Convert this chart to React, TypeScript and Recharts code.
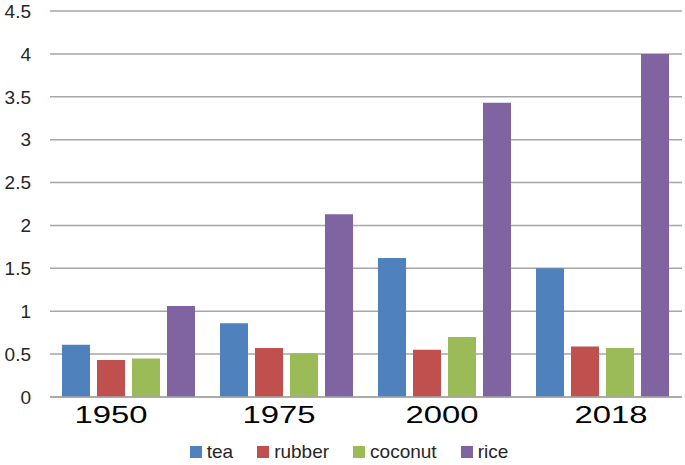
import React from 'react';
import { BarChart, Bar, XAxis, YAxis, CartesianGrid, Legend } from 'recharts';

const years = ['1950', '1975', '2000', '2018'];
const tea = [0.61, 0.86, 1.62, 1.5];
const rubber = [0.43, 0.57, 0.55, 0.59];
const coconut = [0.45, 0.51, 0.7, 0.57];
const rice = [1.06, 2.13, 3.43, 4.0];
const yTicks = [0, 0.5, 1, 1.5, 2, 2.5, 3, 3.5, 4, 4.5];

const C = {
  tea: '#4f81bd',
  rubber: '#c0504d',
  coconut: '#9bbb59',
  rice: '#8064a2',
  grid: '#a6a6a6',
  text: '#262626',
};

const series = [
  { key: 'tea', color: C.tea },
  { key: 'rubber', color: C.rubber },
  { key: 'coconut', color: C.coconut },
  { key: 'rice', color: C.rice },
];

const data = years.map((y, i) => ({
  year: y,
  tea: tea[i],
  rubber: rubber[i],
  coconut: coconut[i],
  rice: rice[i],
}));

const font = '"Liberation Sans", Arial, sans-serif';

// the year labels in the source sit a little off the group centres
const nudge: Record<string, number> = { '1950': -18, '1975': -8, '2000': -3, '2018': 8 };

function YearTick(props: any) {
  const { x, y, payload } = props;
  return (
    <text
      x={x + (nudge[payload.value] ?? 0)}
      y={y}
      dy={18}
      textAnchor="middle"
      fontFamily={font}
      fontSize={24}
      fill="#000"
      textLength={73}
      lengthAdjust="spacingAndGlyphs"
    >
      {payload.value}
    </text>
  );
}

function LegendBox() {
  return (
    <div style={{ display: 'flex', justifyContent: 'center', gap: 24, fontFamily: font, fontSize: 19, lineHeight: '22px', color: C.text, paddingLeft: 16 }}>
      {series.map((s) => (
        <span key={s.key} style={{ display: 'flex', alignItems: 'center' }}>
          <span style={{ width: 12, height: 12, background: s.color, marginRight: 5, display: 'inline-block' }} />
          {s.key}
        </span>
      ))}
    </div>
  );
}

export default function App() {
  return (
    <div style={{ width: 685, height: 465, background: '#fff' }}>
      <style>{'body{margin:0}'}</style>
      <BarChart
        width={685}
        height={465}
        data={data}
        margin={{ top: 11, right: 3, left: 0, bottom: 0 }}
        barGap={7}
        barCategoryGap={12}
      >
        <CartesianGrid stroke={C.grid} strokeWidth={1.5} vertical={false} />
        <XAxis
          dataKey="year"
          height={34}
          tick={<YearTick />}
          tickLine={false}
          axisLine={{ stroke: C.grid, strokeWidth: 1.5 }}
          interval={0}
        />
        <YAxis
          width={50}
          domain={[0, 4.5]}
          ticks={yTicks}
          axisLine={false}
          tickLine={false}
          tickMargin={13}
          tick={{ fill: C.text, fontSize: 19, fontFamily: font }}
        />
        <Legend
          verticalAlign="bottom"
          height={34}
          content={<LegendBox />}
          wrapperStyle={{ height: 34, paddingTop: 10, boxSizing: 'border-box' }}
        />
        {series.map((s) => (
          <Bar key={s.key} dataKey={s.key} fill={s.color} isAnimationActive={false} />
        ))}
      </BarChart>
    </div>
  );
}
